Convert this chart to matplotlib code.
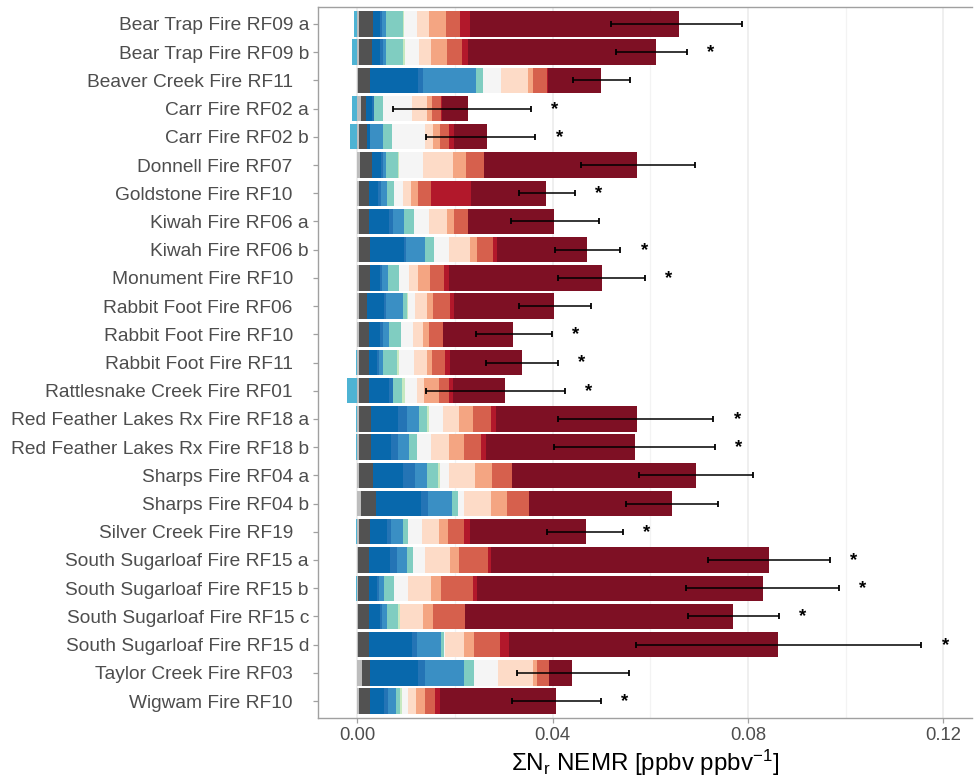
import matplotlib
matplotlib.use("Agg")
import matplotlib.pyplot as plt
import numpy as np
from matplotlib.ticker import MultipleLocator

plt.rcParams["font.family"] = ["Liberation Sans", "DejaVu Sans"]
plt.rcParams["mathtext.fontset"] = "custom"
plt.rcParams["mathtext.rm"] = "Liberation Sans"
plt.rcParams["mathtext.it"] = "Liberation Sans:italic"

FIRES = [
    "Bear Trap Fire RF09 a", "Bear Trap Fire RF09 b", "Beaver Creek Fire RF11",
    "Carr Fire RF02 a", "Carr Fire RF02 b", "Donnell Fire RF07",
    "Goldstone Fire RF10", "Kiwah Fire RF06 a", "Kiwah Fire RF06 b",
    "Monument Fire RF10", "Rabbit Foot Fire RF06", "Rabbit Foot Fire RF10",
    "Rabbit Foot Fire RF11", "Rattlesnake Creek Fire RF01",
    "Red Feather Lakes Rx Fire RF18 a", "Red Feather Lakes Rx Fire RF18 b",
    "Sharps Fire RF04 a", "Sharps Fire RF04 b", "Silver Creek Fire RF19",
    "South Sugarloaf Fire RF15 a", "South Sugarloaf Fire RF15 b",
    "South Sugarloaf Fire RF15 c", "South Sugarloaf Fire RF15 d",
    "Taylor Creek Fire RF03", "Wigwam Fire RF10",
]

# negative contribution (stacks left of zero)
cyan = [-0.0006, -0.0010, 0, -0.0011, -0.0015, 0, 0, 0, 0, 0, 0, 0, -0.0002,
        -0.0020, -0.0003, -0.0002, 0, 0, -0.0002, 0, -0.0002, 0, 0, 0, 0]

# positive contributions, stacked from zero in this order
grey_light = [0.0004, 0.0004, 0.0002, 0.0007, 0.0004, 0.0006, 0.0004, 0.0004, 0.0004,
              0.0004, 0.0004, 0.0004, 0.0004, 0.0004, 0.0004, 0.0004, 0.0004, 0.0007,
              0.0004, 0.0002, 0.0002, 0.0002, 0.0002, 0.0009, 0.0004]
grey_dark = [0.0029, 0.0027, 0.0024, 0.0012, 0.0016, 0.0024, 0.0021, 0.0020, 0.0023,
             0.0022, 0.0017, 0.0021, 0.0021, 0.0020, 0.0025, 0.0024, 0.0029, 0.0031,
             0.0023, 0.0023, 0.0023, 0.0023, 0.0023, 0.0017, 0.0023]
blue_dark = [0.0014, 0.0016, 0.0099, 0.0011, 0.0007, 0.0018, 0.0018, 0.0041, 0.0068,
             0.0020, 0.0033, 0.0022, 0.0016, 0.0041, 0.0054, 0.0041, 0.0061, 0.0093,
             0.0034, 0.0042, 0.0016, 0.0022, 0.0088, 0.0099, 0.0027]
blue_mid = [0.0004, 0.0006, 0.0009, 0.0004, 0, 0.0004, 0.0006, 0.0008, 0.0004,
            0.0005, 0.0004, 0.0005, 0.0003, 0.0008, 0.0018, 0.0014, 0.0024, 0.0013,
            0.0008, 0.0015, 0.0004, 0.0004, 0.0010, 0.0014, 0.0009]
blue_light = [0.0008, 0.0006, 0.0109, 0, 0.0025, 0.0006, 0.0011, 0.0023, 0.0040,
              0.0013, 0.0036, 0.0014, 0.0009, 0, 0.0025, 0.0024, 0.0025, 0.0050,
              0.0025, 0.0019, 0.0010, 0.0010, 0.0048, 0.0080, 0.0017]
teal = [0.0035, 0.0035, 0.0015, 0.0018, 0.0020, 0.0026, 0.0016, 0.0020, 0.0019,
        0.0021, 0.0008, 0.0024, 0.0029, 0.0018, 0.0017, 0.0016, 0.0023, 0.0012,
        0.0011, 0.0014, 0.0020, 0.0023, 0.0007, 0.0021, 0.0008]
green_light = [0.0002, 0.0003, 0, 0, 0, 0.0002, 0, 0, 0, 0, 0.0002, 0, 0.0003,
               0.0006, 0.0003, 0, 0.0003, 0.0001, 0, 0, 0, 0.0003, 0, 0, 0.0003]
white = [0.0027, 0.0030, 0.0036, 0.0060, 0.0066, 0.0049, 0.0017, 0.0031, 0.0030,
         0.0022, 0.0015, 0.0024, 0.0032, 0.0026, 0.0029, 0.0029, 0.0018, 0.0012,
         0.0027, 0.0023, 0.0028, 0, 0.0002, 0.0049, 0.0014]
peach = [0.0024, 0.0025, 0.0055, 0.0030, 0.0017, 0.0061, 0.0018, 0.0036, 0.0042,
         0.0018, 0.0023, 0.0020, 0.0025, 0.0014, 0.0034, 0.0035, 0.0055, 0.0054,
         0.0036, 0.0051, 0.0049, 0.0048, 0.0039, 0.0070, 0.0016]
salmon = [0.0034, 0.0031, 0.0010, 0.0012, 0.0015, 0.0026, 0.0014, 0.0015, 0.0016,
          0.0024, 0.0014, 0.0014, 0.0012, 0.0031, 0.0029, 0.0031, 0.0035, 0.0033,
          0.0018, 0.0020, 0.0020, 0.0021, 0.0021, 0.0009, 0.0017]
red_orange = [0.0029, 0.0031, 0.0030, 0.0017, 0.0018, 0.0037, 0.0026, 0.0029, 0.0032,
              0.0029, 0.0034, 0.0027, 0.0025, 0.0020, 0.0036, 0.0036, 0.0040, 0.0046,
              0.0033, 0.0059, 0.0066, 0.0065, 0.0053, 0.0025, 0.0022]
red = [0.0020, 0.0012, 0.0002, 0.0003, 0.0010, 0, 0.0083, 0, 0.0009, 0.0009, 0.0009,
       0, 0.0012, 0.0009, 0.0010, 0.0010, 0, 0, 0.0012, 0.0005, 0.0008, 0, 0.0017,
       0, 0.0010]
red_dark = [0.0428, 0.0386, 0.0108, 0.0053, 0.0068, 0.0314, 0.0153, 0.0177, 0.0184,
            0.0314, 0.0205, 0.0145, 0.0146, 0.0105, 0.0288, 0.0305, 0.0377, 0.0293,
            0.0237, 0.0570, 0.0586, 0.0549, 0.0552, 0.0046, 0.0237]

err_lo = [0.0520, 0.0529, 0.0441, 0.0074, 0.0141, 0.0458, 0.0331, 0.0315, 0.0406,
          0.0412, 0.0331, 0.0243, 0.0264, 0.0141, 0.0412, 0.0402, 0.0578, 0.0550,
          0.0388, 0.0719, 0.0673, 0.0677, 0.0570, 0.0327, 0.0316]
err_hi = [0.0788, 0.0675, 0.0559, 0.0356, 0.0365, 0.0691, 0.0445, 0.0495, 0.0539,
          0.0589, 0.0479, 0.0399, 0.0411, 0.0425, 0.0729, 0.0733, 0.0811, 0.0739,
          0.0544, 0.0968, 0.0986, 0.0864, 0.1155, 0.0556, 0.0499]
significant = [0, 1, 0, 1, 1, 0, 1, 0, 1, 1, 0, 1, 1, 1, 1, 1, 0, 0, 1, 1, 1, 1, 1, 0, 1]

POSITIVE = [
    (grey_light, "#BDBDBD"),
    (grey_dark, "#525252"),
    (blue_dark, "#0868AC"),
    (blue_mid, "#2474B5"),
    (blue_light, "#3A8FC4"),
    (teal, "#80CDC1"),
    (green_light, "#C7E9C0"),
    (white, "#F5F5F5"),
    (peach, "#FDDBC7"),
    (salmon, "#F4A582"),
    (red_orange, "#D6604D"),
    (red, "#B2182B"),
    (red_dark, "#7E1024"),
]

TEXT_GREY = "#4D4D4D"
AXIS_GREY = "#A0A0A0"


def tick_label(name: str) -> str:
    # unsuffixed fires get padding so the names line up with the "a"/"b" ones
    return name if name[-2:] in (" a", " b", " c", " d") else name + "   "


def main() -> None:
    fig = plt.figure(figsize=(9.74, 7.84), dpi=100)
    ax = fig.add_axes([318 / 974, 1 - 718 / 784, 654 / 974, 711 / 784])

    y = np.arange(len(FIRES))
    h = 0.9

    ax.barh(y, cyan, left=0, height=h, color="#4EB3D3", linewidth=0)
    left = np.zeros(len(FIRES))
    for vals, col in POSITIVE:
        v = np.array(vals, dtype=float)
        ax.barh(y, v, left=left, height=h, color=col, linewidth=0)
        left += v

    lo = np.array(err_lo)
    hi = np.array(err_hi)
    ax.errorbar((lo + hi) / 2, y, xerr=(hi - lo) / 2, fmt="none", ecolor="black",
                elinewidth=1.1, capsize=2.3, capthick=1.3, zorder=4)
    for i, flag in enumerate(significant):
        if flag:
            ax.text(hi[i] + 0.0049, y[i] + 0.02, "*", ha="center", va="center",
                    fontsize=13.5, color="black", fontweight="bold")

    ax.set_xlim(-0.00803, 0.1259)
    ax.set_ylim(len(FIRES) - 0.4, -0.6)
    ax.xaxis.set_major_locator(MultipleLocator(0.04))
    ax.xaxis.set_minor_locator(MultipleLocator(0.02))
    ax.set_xticks([0.0, 0.04, 0.08, 0.12])
    ax.set_xticklabels(["0.00", "0.04", "0.08", "0.12"])
    ax.set_yticks(y)
    ax.set_yticklabels([tick_label(f) for f in FIRES])

    ax.grid(True, axis="x", which="major", color="#EBEBEB", linewidth=1.1)
    ax.grid(True, axis="x", which="minor", color="#F3F3F3", linewidth=0.9)
    ax.set_axisbelow(True)

    for side in ("top", "left", "bottom"):
        ax.spines[side].set_color(AXIS_GREY)
        ax.spines[side].set_linewidth(1.0)
    ax.spines["right"].set_visible(False)

    ax.tick_params(axis="y", which="major", length=3.5, width=0.9, color=AXIS_GREY,
                   labelcolor=TEXT_GREY, labelsize=13.8, pad=3)
    ax.tick_params(axis="x", which="major", length=3.5, width=0.9, color=AXIS_GREY,
                   labelcolor=TEXT_GREY, labelsize=13.3, pad=3)
    ax.tick_params(axis="x", which="minor", length=0)

    ax.set_xlabel(r"$\Sigma$N$_\mathrm{r}$ NEMR [ppbv ppbv$^{-1}$]", fontsize=17.4,
                  color="black", labelpad=3)

    fig.savefig("out.png", dpi=100)
    plt.close(fig)


if __name__ == "__main__":
    main()
